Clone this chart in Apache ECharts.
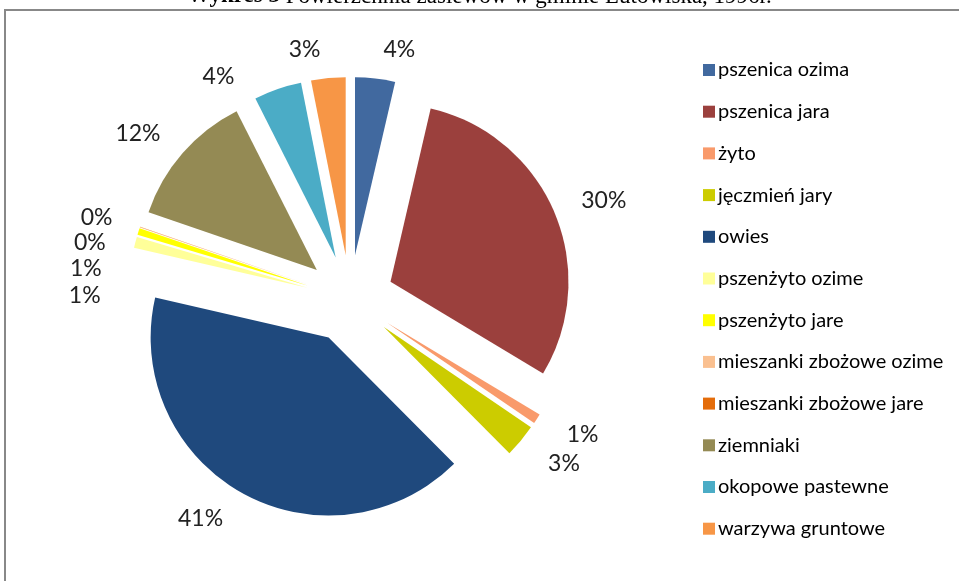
<!DOCTYPE html>
<html>
<head>
<meta charset="utf-8">
<script src="https://cdn.jsdelivr.net/npm/echarts@6/dist/echarts.min.js"></script>
<style>
html,body{margin:0;padding:0;background:#fff;}
#chart{width:959px;height:581px;}
</style>
</head>
<body>
<div id="chart"></div>
<script>
const categories = ['pszenica ozima','pszenica jara','żyto','jęczmień jary','owies','pszenżyto ozime','pszenżyto jare','mieszanki zbożowe ozime','mieszanki zbożowe jare','ziemniaki','okopowe pastewne','warzywa gruntowe'];
const values = [3.6, 29.8, 0.9, 3.0, 40.8, 1.0, 0.6, 0.04, 0.02, 12.2, 4.3, 3.1];
const colors = ['#41699F','#9B403D','#F99A6B','#CCCC00','#1F497D','#FFFF99','#FFFF00','#FAC090','#E46C0A','#948A54','#4BACC6','#F79646'];
const titleBold = 'Wykres 3';
const titleRest = ' Powierzchnia zasiewów w gminie Lutowiska, 1996r.';

const chart = echarts.init(document.getElementById('chart'), null, {renderer:'canvas'});
const data = categories.map((c,i)=>({name:c, value:values[i], selected:true, itemStyle:{color:colors[i]}}));
chart.setOption({
  animation:false,
  backgroundColor:'#fff',
  graphic:[
    {type:'rect', shape:{x:5,y:10,width:1000,height:700}, style:{fill:'none', stroke:'#888', lineWidth:2}, silent:true},
    {type:'text', left:'center', top:-15, style:{
      rich:{b:{fontFamily:'Liberation Serif', fontSize:23, fontWeight:'bold', fill:'#000'}, n:{fontFamily:'Liberation Serif', fontSize:23, fill:'#000'}},
      text:'{b|'+titleBold+'}{n|'+titleRest+'}'
    }}
  ],
  legend:{
    orient:'vertical', left:698, top:55,
    itemWidth:12, itemHeight:12, itemGap:21.7, icon:'rect',
    data:categories,
    textStyle:{fontFamily:'Lato', fontSize:20, color:'#000', lineHeight:20, padding:[0,0,0,-2]},
    selectedMode:false
  },
  series:[{
    type:'pie',
    center:[350,299],
    radius:178,
    startAngle:90,
    clockwise:true,
    selectedMode:'multiple',
    selectedOffset:44,
    avoidLabelOverlap:true,
    emphasis:{disabled:true},
    label:{
      show:true, position:'outside',
      fontFamily:'Lato', fontSize:23, color:'#222',
      formatter:p=>Math.round(p.percent)+'%'
    },
    labelLine:{show:false, length:29, length2:0},
    data:data
  }]
});
</script>
</body>
</html>
